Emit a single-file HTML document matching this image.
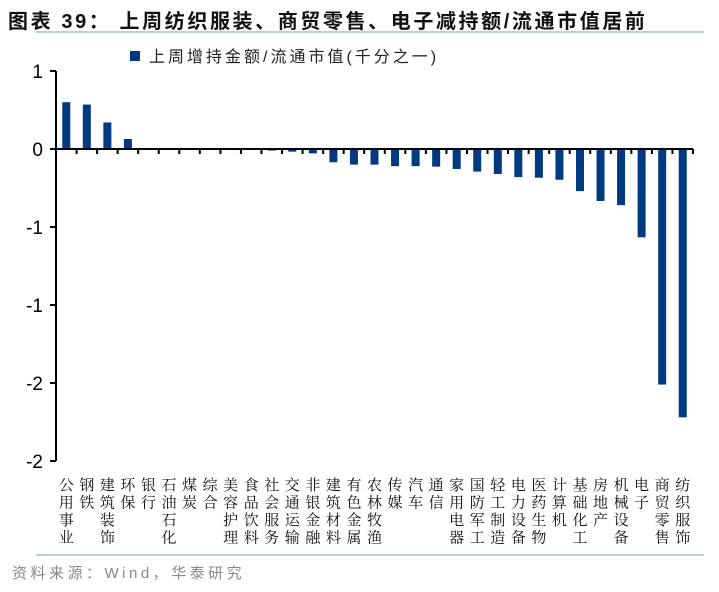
<!DOCTYPE html>
<html><head><meta charset="utf-8">
<style>
body{margin:0;background:#fff;width:719px;height:592px;overflow:hidden;position:relative;font-family:"Liberation Sans","Noto Sans CJK SC",sans-serif;}
#title{position:absolute;left:8px;top:5px;font-size:20px;font-weight:bold;color:#111;letter-spacing:2.6px;white-space:nowrap;}
#src{position:absolute;left:12px;top:562px;font-size:15px;color:#888;white-space:nowrap;letter-spacing:3.5px;}
</style></head><body>
<div id="title">图表 39：&nbsp;上周纺织服装、商贸零售、电子减持额/流通市值居前</div>
<svg id="chart" width="719" height="592" style="position:absolute;left:0;top:0"></svg>
<div id="src">资料来源：Wind，华泰研究</div>
<script>
const categories=["公用事业","钢铁","建筑装饰","环保","银行","石油石化","煤炭","综合","美容护理","食品饮料","社会服务","交通运输","非银金融","建筑材料","有色金属","农林牧渔","传媒","汽车","通信","家用电器","国防军工","轻工制造","电力设备","医药生物","计算机","基础化工","房地产","机械设备","电子","商贸零售","纺织服饰"];
const values=[0.30,0.285,0.17,0.064,0,0,0,0,0,-0.003,-0.01,-0.017,-0.028,-0.085,-0.10,-0.10,-0.11,-0.11,-0.113,-0.128,-0.145,-0.16,-0.18,-0.184,-0.197,-0.27,-0.333,-0.36,-0.566,-1.51,-1.72];
const tickValues=[0.5,0,-0.5,-1,-1.5,-2];
const tickLabels=["1","0","-1","-1","-2","-2"];
const NS="http://www.w3.org/2000/svg";
const svg=document.getElementById('chart');
const x0=56,x1=693,yZero=149,pxPerUnit=156;
const step=(x1-x0)/categories.length;
const xPos=i=>x0+step*(i+0.5);
const yPos=v=>yZero-v*pxPerUnit;
function mk(t,a){const e=document.createElementNS(NS,t);for(const k in a)e.setAttribute(k,a[k]);svg.appendChild(e);return e;}
let l=mk('line',{x1:36,y1:32,x2:704,y2:32,stroke:'#a9bdd4','stroke-width':1.5});


l=mk('line',{x1:36,y1:555,x2:704,y2:555,stroke:'#a9bdd4','stroke-width':1.5});


let lg=mk('rect',{x:130,y:51,width:10,height:10,fill:'#003A80'});


let lt=mk('text',{x:149,y:62,'font-size':16,fill:'#222','letter-spacing':'3px','font-family':'"Liberation Sans","Noto Sans CJK SC",sans-serif'});
lt.textContent='上周增持金额/流通市值(千分之一)';


values.forEach((v,i)=>{
  const y=yPos(v);
  const r=mk('rect',{x:xPos(i)-4,y:Math.min(y,yZero),width:8,height:Math.max(Math.abs(y-yZero),0.01),fill:'#003A80'});
  
  
});
let ya=mk('line',{x1:x0,y1:yPos(tickValues[0]),x2:x0,y2:yPos(tickValues[tickValues.length-1]),stroke:'#000','stroke-width':2});


tickValues.forEach((t,i)=>{
  const y=yPos(t);
  mk('line',{x1:x0-6,y1:y,x2:x0,y2:y,stroke:'#000','stroke-width':2});
  const tx=mk('text',{x:43,y:y+7,'font-size':19,'text-anchor':'end',fill:'#000'});
  tx.textContent=tickLabels[i];
  
  
});
let xa=mk('line',{x1:x0,y1:yZero,x2:x1,y2:yZero,stroke:'#000','stroke-width':2});


for(let i=1;i<=categories.length;i++){const x=x0+step*i;mk('line',{x1:x,y1:yZero,x2:x,y2:yZero+5,stroke:'#000','stroke-width':2});}
categories.forEach((c,i)=>{
  [...c].forEach((ch,j)=>{
    const t=mk('text',{x:xPos(i),y:490+j*17.5,'font-size':15,'text-anchor':'middle',fill:'#111','font-family':'"Noto Serif CJK SC","Noto Sans CJK SC",serif'});
    t.textContent=ch;
    
    
  });
});
</script>
</body></html>
